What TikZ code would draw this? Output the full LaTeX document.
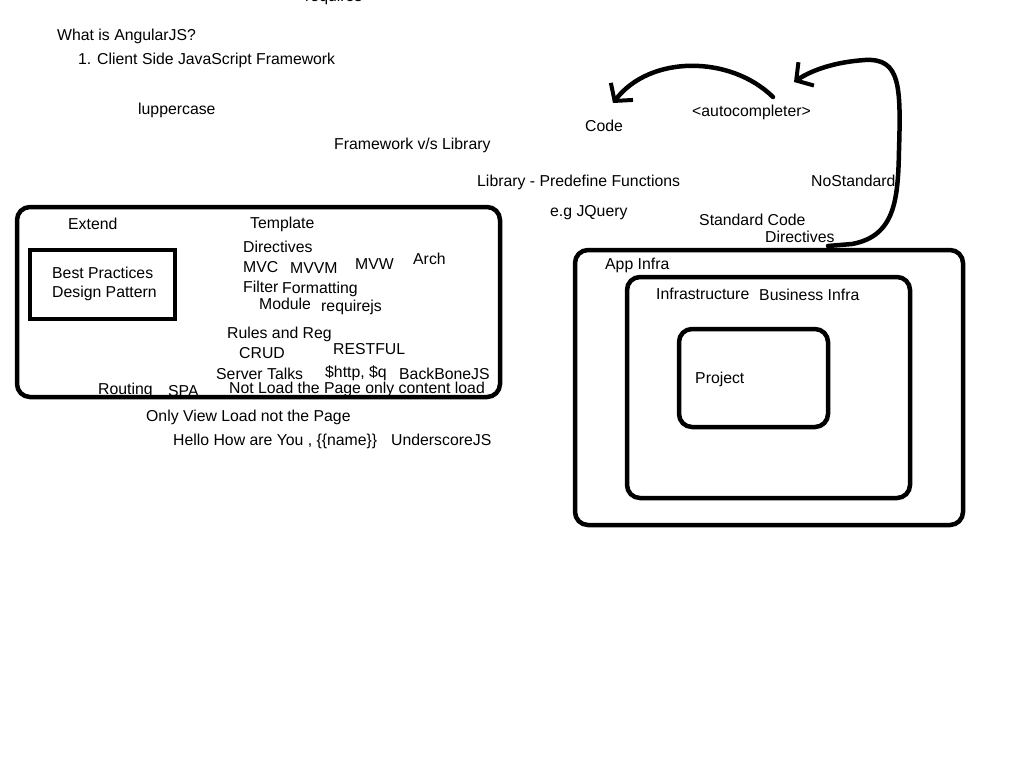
\documentclass[tikz,border=0pt]{standalone}
\usepackage{fontspec}
\setmainfont{Liberation Sans}
\usetikzlibrary{arrows.meta}
\tikzset{
  lbl/.style={anchor=base west, inner sep=0pt, font=\fontsize{15.8}{18}\selectfont},
  panel/.style={line width=4.5pt, rounded corners=13pt},
  plainbox/.style={line width=3.5pt},
  sketch/.style={line width=4.5pt, line cap=round, -{Straight Barb[length=12pt,width=28pt,line width=4pt]}},
}
\begin{document}
\begin{tikzpicture}[x=1pt,y=-1pt]
\useasboundingbox (0,0) rectangle (1024,768);

% heading
\node[lbl] (requires) at (305,2) {requires};
\node[lbl] (what) at (57,41) {What is AngularJS?};
\node[lbl] (client) at (78,64) {1. Client Side JavaScript Framework};
\node[lbl] (upper) at (138,114) {luppercase};
\node[lbl] (fwlib) at (334,149) {Framework v/s Library};
\node[lbl] (code) at (585,131) {Code};
\node[lbl] (auto) at (692,116) {<autocompleter>};
\node[lbl] (library) at (477,186) {Library - Predefine Functions};
\node[lbl] (nostd) at (811,186) {NoStandard};
\node[lbl] (jquery) at (550,216) {e.g JQuery};
\node[lbl] (stdcode) at (699,225) {Standard Code};
\node[lbl] (rdirect) at (765,242) {Directives};

% angular box
\path[draw,panel] (17,207) rectangle (500,397);
\path[draw,plainbox] (30,250) rectangle (175,319);
\node[lbl] (extend) at (68,229) {Extend};
\node[lbl] (template) at (250,228) {Template};
\node[lbl] (best) at (52,278) {Best Practices};
\node[lbl] (design) at (52,297) {Design Pattern};
\node[lbl] (ldirect) at (243,252) {Directives};
\node[lbl] (mvc) at (243,272) {MVC};
\node[lbl] (mvvm) at (290,273) {MVVM};
\node[lbl] (mvw) at (355,269) {MVW};
\node[lbl] (arch) at (413,264) {Arch};
\node[lbl] (filter) at (243,292) {Filter};
\node[lbl] (format) at (282,293) {Formatting};
\node[lbl] (module) at (259,309) {Module};
\node[lbl] (reqjs) at (321,311) {requirejs};
\node[lbl] (rules) at (227,338) {Rules and Reg};
\node[lbl] (crud) at (239,358) {CRUD};
\node[lbl] (rest) at (333,354) {RESTFUL};
\node[lbl] (server) at (216,379) {Server Talks};
\node[lbl] (http) at (325,377) {\$http, \$q};
\node[lbl] (backbone) at (399,379) {BackBoneJS};
\node[lbl] (routing) at (98,394) {Routing};
\node[lbl] (spa) at (168,396) {SPA};
\node[lbl] (notload) at (229,393) {Not Load the Page only content load};
\node[lbl] (onlyview) at (146,421) {Only View Load not the Page};
\node[lbl] (hello) at (173,445) {Hello How are You , \{\{name\}\}};
\node[lbl] (underscore) at (391,445) {UnderscoreJS};

% infra boxes
\path[draw,panel] (575,250) rectangle (963,525);
\path[draw,panel] (627,277) rectangle (910,498);
\path[draw,panel] (679,329) rectangle (828,427);
\node[lbl] (appinfra) at (605,269) {App Infra};
\node[lbl] (infra) at (656,299) {Infrastructure};
\node[lbl] (business) at (759,300) {Business Infra};
\node[lbl] (project) at (695,383) {Project};

% arrows
\coordinate (autotail) at (773,97);
\coordinate (codetip) at (613,103);
\coordinate (dirtail) at (828,246);
\coordinate (autotip) at (794,82);
\path[draw,sketch] (autotail) .. controls (730,55) and (650,55) .. (codetip);
\path[draw,sketch] (dirtail) -- (852,244) .. controls (895,236) and (898,200) .. (899,150)
  .. controls (901,85) and (900,58) .. (865,60) .. controls (835,62) and (812,70) .. (autotip);

\end{tikzpicture}
\end{document}
